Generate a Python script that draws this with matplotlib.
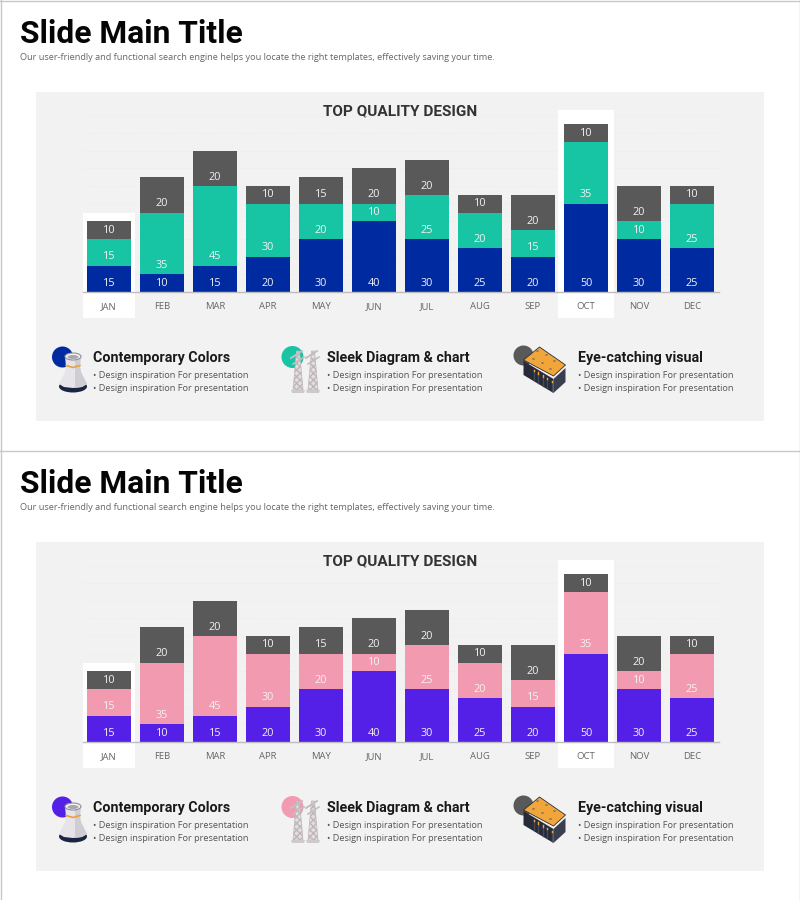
import numpy as np
import matplotlib
matplotlib.use('Agg')
import matplotlib.pyplot as plt
from matplotlib.patches import Rectangle, Circle, Ellipse, Polygon

months = ['JAN', 'FEB', 'MAR', 'APR', 'MAY', 'JUN', 'JUL', 'AUG', 'SEP', 'OCT', 'NOV', 'DEC']
low = [15, 10, 15, 20, 30, 40, 30, 25, 20, 50, 30, 25]
mid = [15, 35, 45, 30, 20, 10, 25, 20, 15, 35, 10, 25]
top = [10, 20, 20, 10, 15, 20, 20, 10, 20, 10, 20, 10]
highlight = {'JAN': (5, 0.98), 'OCT': (8, 1.04)}  # month: headroom, width
grid_values = [10, 20, 30, 40, 50, 60, 70, 80, 90, 100]

features = ['Contemporary Colors', 'Sleek Diagram & chart', 'Eye-catching visual']
feature_line = '• Design inspiration For presentation'
subtitle = 'Our user-friendly and functional search engine helps you locate the right templates, effectively saving your time.'

colors_a = ('#002AA0', '#17C4A3', '#595959')
colors_b = ('#541FE6', '#F29AB0', '#595959')

plt.rcParams['font.family'] = ['Open Sans', 'DejaVu Sans']
HEAD = ['Roboto', 'DejaVu Sans']
W, H = 800, 900
fig = plt.figure(figsize=(W / 100, H / 100), dpi=100, facecolor='white')

# pixel layer for the slide
bg = fig.add_axes([0, 0, 1, 1])
bg.set_xlim(0, W)
bg.set_ylim(H, 0)
bg.axis('off')


def tower(x0, dy, c):
    bg.add_patch(Circle((62.5, 357 + dy), 10.5, color=c, lw=0, zorder=3))
    bg.add_patch(Ellipse((x0, 386.5 + dy), 28, 12, color='#1B2440', lw=0, zorder=4))
    body = [(x0 - 8, 357), (x0 - 7, 366), (x0 - 8, 372), (x0 - 11, 378), (x0 - 14, 384), (x0 - 9, 387), (x0, 388),
            (x0 + 9, 387), (x0 + 14, 384), (x0 + 11, 378), (x0 + 8, 372), (x0 + 7, 366), (x0 + 8, 357)]
    bg.add_patch(Polygon([(a, b + dy) for a, b in body], color='#E6E4E8', lw=0, zorder=5))
    shade = [(x0 + 2, 358), (x0 + 2, 388), (x0 + 9, 387), (x0 + 14, 384), (x0 + 11, 378), (x0 + 8, 372),
             (x0 + 7, 366), (x0 + 8, 357)]
    bg.add_patch(Polygon([(a, b + dy) for a, b in shade], color='#CFCCD2', lw=0, zorder=5))
    bg.plot([x0 - 7, x0, x0 + 7], [365.5 + dy, 367.5 + dy, 365.5 + dy], color='#E9A23B', lw=1.2, zorder=6)
    bg.add_patch(Ellipse((x0, 356.5 + dy), 16, 7, color='#F6F5F6', ec='#8F8D96', lw=0.8, zorder=6))
    bg.add_patch(Ellipse((x0, 357 + dy), 11, 4, color='#A8A6AE', lw=0, zorder=7))


def pylons(x0, dy, c):
    bg.add_patch(Circle((x0, 357 + dy), 11, color=c, lw=0, zorder=3))
    for px in (x0 + 5.5, x0 + 20.5):
        bg.add_patch(Polygon([(px - 1.5, 351 + dy), (px + 1.5, 351 + dy), (px + 5, 390 + dy), (px - 5, 390 + dy)],
                             facecolor='#E4DEDE', edgecolor='#BDB7BB', lw=0.5, hatch='xxxxx', zorder=4))
        bg.plot([px - 7, px + 4], [358 + dy, 351 + dy], color='#C4BEC2', lw=1.4, zorder=5)
        bg.plot([px - 5, px + 6], [364 + dy, 357 + dy], color='#C4BEC2', lw=1.2, zorder=5)
        bg.add_patch(Polygon([(px - 7, 390 + dy), (px + 7, 390 + dy), (px + 6, 393 + dy), (px - 6, 393 + dy)],
                             color='#CFC9CC', lw=0, zorder=5))


def block(x0, dy, c):
    bg.add_patch(Circle((x0, 355.5 + dy), 10, color=c, lw=0, zorder=3))
    bg.add_patch(Polygon([(x0, 361 + dy), (x0 + 30, 379 + dy), (x0 + 30, 393 + dy), (x0, 375 + dy)],
                         color='#272B38', lw=0, zorder=4))
    bg.add_patch(Polygon([(x0 + 30, 379 + dy), (x0 + 42, 368 + dy), (x0 + 42, 382 + dy), (x0 + 30, 393 + dy)],
                         color='#3A3F50', lw=0, zorder=4))
    bg.add_patch(Polygon([(x0, 360 + dy), (x0 + 16, 347 + dy), (x0 + 42, 365 + dy), (x0 + 30, 376 + dy)],
                         color='#F2A63A', ec='#2A2E3A', lw=0.6, zorder=5))
    for a, b in ((14, 351), (23, 355), (31, 361), (10, 359), (19, 363), (27, 369)):
        bg.add_patch(Ellipse((x0 + a, b + dy), 3, 2, color='#8E7F68', lw=0, zorder=6))
    for k in range(5):
        bg.plot([x0 + 10 + 4.6 * k] * 2, [369.5 + 2.8 * k + dy, 380 + 2.8 * k + dy], color='#454A5A', lw=1, zorder=6)
        bg.plot([x0 + 10 + 4.6 * k] * 2, [369.5 + 2.8 * k + dy, 371 + 2.8 * k + dy], color='#F2A63A', lw=1, zorder=7)


def draw_slide(dy, colors):
    # page frame
    bg.plot([0.5, 0.5], [dy, dy + 450], color='#C8C8C8', lw=1, zorder=1)
    bg.plot([799.5, 799.5], [dy, dy + 450], color='#C8C8C8', lw=1, zorder=1)
    bg.plot([0, W], [dy + 0.5, dy + 0.5], color='#C8C8C8', lw=1, zorder=1)
    bg.add_patch(Rectangle((36, 92 + dy), 728, 329, color='#F2F2F2', lw=0, zorder=1))

    bg.text(20, 34 + dy, 'Slide Main Title', fontsize=22.9, fontweight='bold', color='#050505', va='center',
            family=HEAD, zorder=5)
    bg.text(20, 58 + dy, subtitle, fontsize=6.56, color='#666666', va='center', zorder=5)
    bg.text(400, 111.5 + dy, 'TOP QUALITY DESIGN', fontsize=11.1, fontweight='bold', color='#333333',
            ha='center', va='center', family=HEAD, zorder=5)

    # chart, x 82-718 and baseline at y=292, about 1.765 px per unit
    ax_h = 1.765 * 100
    ax = fig.add_axes([82.5 / W, 1 - (292 + dy) / H, 636 / W, ax_h / H])
    ax.patch.set_alpha(0)
    ax.set_xlim(-0.5, 11.5)
    ax.set_ylim(0, 100)
    for s in ('top', 'left', 'right'):
        ax.spines[s].set_visible(False)
    ax.spines['bottom'].set_color('#BDBDBD')
    ax.spines['bottom'].set_linewidth(1)
    ax.set_yticks([])
    x = np.arange(len(months))
    ax.set_xticks(x)
    ax.set_xticklabels(months, fontsize=6.8, color='#666666')
    ax.tick_params(axis='x', length=0, pad=7.5)
    ax.hlines(grid_values, -0.5, 11.5, color='#EBEBEB', lw=0.6, linestyles=(0, (1, 1)), zorder=1)

    low_a, mid_a, top_a = np.array(low), np.array(mid), np.array(top)
    for m, (pad, width) in highlight.items():
        i = months.index(m)
        total = low_a[i] + mid_a[i] + top_a[i]
        ax.bar(i, total + pad + 15, bottom=-15, width=width, color='white', clip_on=False, zorder=1.5)
    ax.bar(x, low_a, width=0.83, color=colors[0], zorder=2)
    ax.bar(x, mid_a, width=0.83, bottom=low_a, color=colors[1], zorder=2)
    ax.bar(x, top_a, width=0.83, bottom=low_a + mid_a, color=colors[2], zorder=2)
    for i in x:
        for base, val in ((0, low_a[i]), (low_a[i], mid_a[i]), (low_a[i] + mid_a[i], top_a[i])):
            ax.text(i, base + 5, str(val), ha='center', va='center', fontsize=7.8, color='#F2F2F2', zorder=3)

    # feature row
    text_x = [93, 327, 578]
    for name, tx in zip(features, text_x):
        bg.text(tx, 358 + dy, name, fontsize=10.3, fontweight='bold', color='#1A1A1A', va='center',
                family=HEAD, zorder=5)
        bg.text(tx, 376 + dy, feature_line, fontsize=6.55, color='#555555', va='center', zorder=5)
        bg.text(tx, 388.5 + dy, feature_line, fontsize=6.55, color='#555555', va='center', zorder=5)
    tower(73, dy, colors[0])
    pylons(292.5, dy, colors[1])
    block(523.5, dy, colors[2])


draw_slide(0, colors_a)
draw_slide(450, colors_b)

fig.savefig('out.png', dpi=100)
